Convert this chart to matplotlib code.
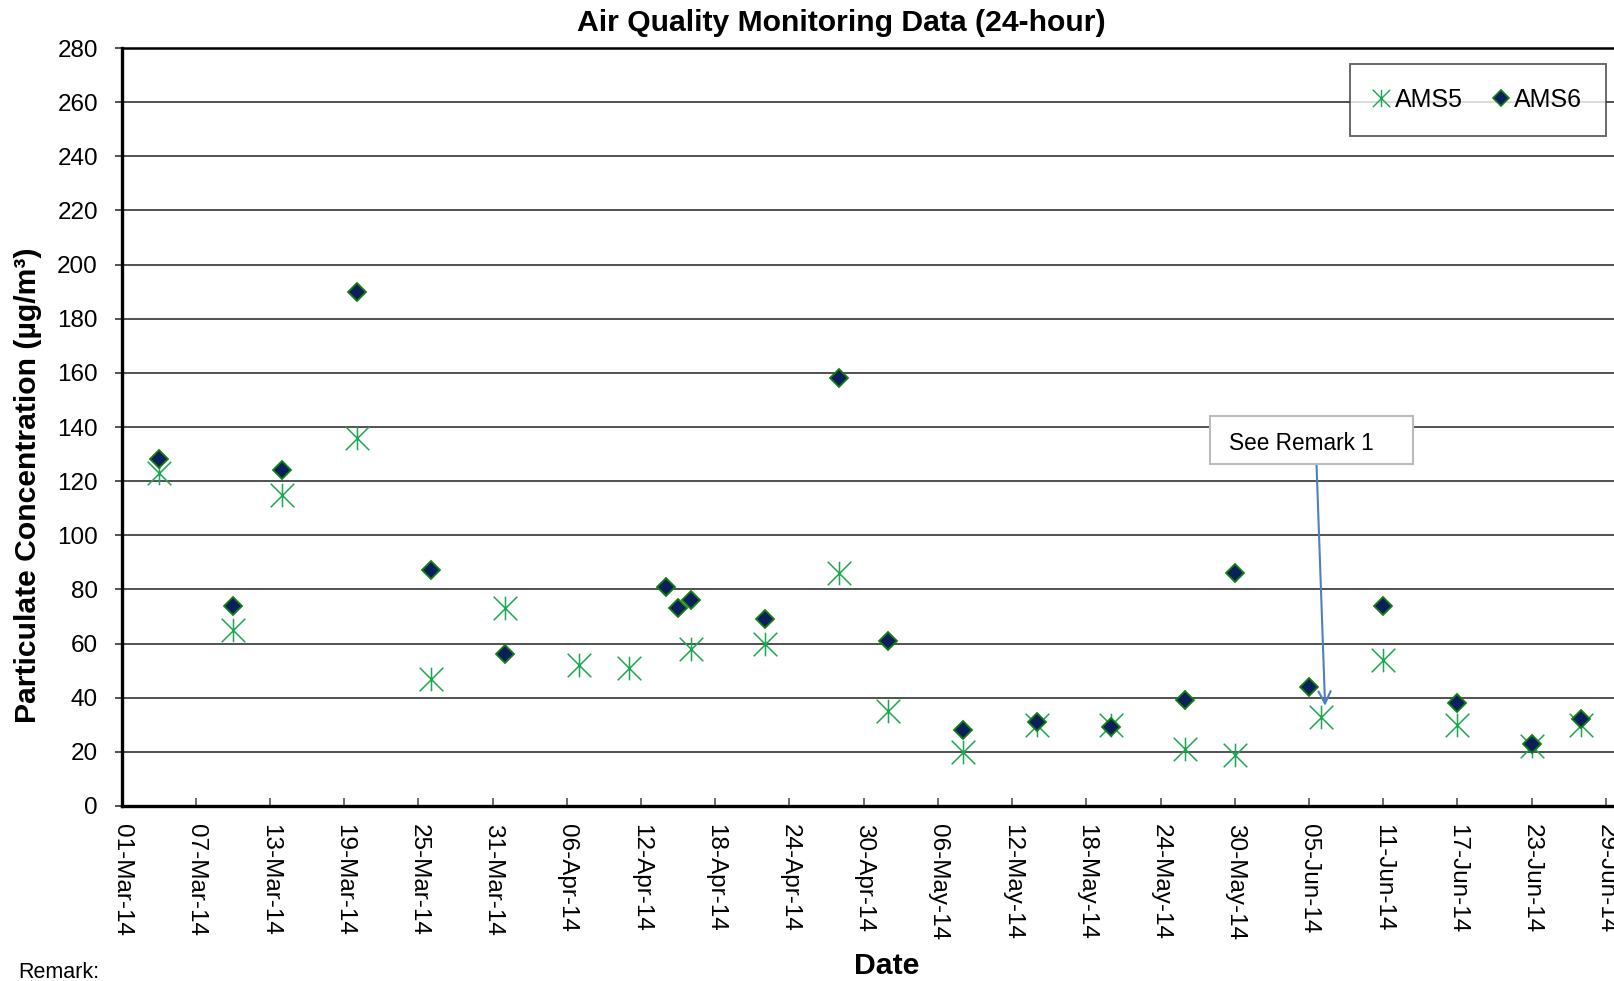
import matplotlib
matplotlib.use('Agg')
import matplotlib.pyplot as plt
import matplotlib.dates as mdates
from matplotlib.path import Path
from matplotlib.lines import Line2D
from matplotlib.patches import Rectangle
from matplotlib import font_manager
import datetime as dt

# ---------------- data ----------------
title_text = "Air Quality Monitoring Data (24-hour)"
y_label = "Particulate Concentration (\u00b5g/m\u00b3)"
x_label = "Date"
series_names = ["AMS5", "AMS6"]

ams5_dates = ["2014-03-04", "2014-03-10", "2014-03-14", "2014-03-20", "2014-03-26",
              "2014-04-01", "2014-04-07", "2014-04-11", "2014-04-16", "2014-04-22",
              "2014-04-28", "2014-05-02", "2014-05-08", "2014-05-14", "2014-05-20",
              "2014-05-26", "2014-05-30", "2014-06-06", "2014-06-11", "2014-06-17",
              "2014-06-23", "2014-06-27"]
ams5_values = [123, 65, 115, 136, 47, 73, 52, 51, 58, 60, 86, 35, 20, 30, 30,
               21, 19, 33, 54, 30, 22, 30]

ams6_dates = ["2014-03-04", "2014-03-10", "2014-03-14", "2014-03-20", "2014-03-26",
              "2014-04-01", "2014-04-14", "2014-04-15", "2014-04-16", "2014-04-22",
              "2014-04-28", "2014-05-02", "2014-05-08", "2014-05-14", "2014-05-20",
              "2014-05-26", "2014-05-30", "2014-06-05", "2014-06-11", "2014-06-17",
              "2014-06-23", "2014-06-27"]
ams6_values = [128, 74, 124, 190, 87, 56, 81, 73, 76, 69, 158, 61, 28, 31, 29,
               39, 86, 44, 74, 38, 23, 32]

y_ticks = list(range(0, 281, 20))
x_start = "2014-03-01"
x_tick_step_days = 6
n_x_ticks = 21
remark_label = "See Remark 1"
remark_target_date = "2014-06-06"
remark_target_value = 37
footer_text = "Remark:"

# ---------------- style ----------------
avail = {f.name for f in font_manager.fontManager.ttflist}
base_font = 'Liberation Sans' if 'Liberation Sans' in avail else 'DejaVu Sans'
narrow_font = 'Liberation Sans Narrow' if 'Liberation Sans Narrow' in avail else base_font
plt.rcParams['font.family'] = [base_font, 'DejaVu Sans']

W, H = 1614, 981
fig = plt.figure(figsize=(W / 100, H / 100), dpi=100)

ax_left, ax_bottom_px, ax_top_px = 121.5, 806, 48
px_per_day = 12.37
ax = fig.add_axes([ax_left / W, 1 - ax_bottom_px / H, 1 - ax_left / W,
                   (ax_bottom_px - ax_top_px) / H])

def to_num(s):
    return mdates.date2num(dt.datetime.strptime(s, "%Y-%m-%d"))

x0 = to_num(x_start)
x_end = x0 + (W - ax_left) / px_per_day

# asterisk marker: vertical bar + X
ast_path = Path([(0, -1), (0, 1), (-1, -1), (1, 1), (-1, 1), (1, -1)],
                [Path.MOVETO, Path.LINETO, Path.MOVETO, Path.LINETO,
                 Path.MOVETO, Path.LINETO])

green = '#1BA851'
navy = '#0A1F5C'
dgreen = '#118011'

x5 = [to_num(d) for d in ams5_dates]
x6 = [to_num(d) for d in ams6_dates]

ax.plot(x5, ams5_values, linestyle='none', marker=ast_path, markersize=17,
        markeredgecolor=green, markerfacecolor='none', markeredgewidth=1.1,
        zorder=3, clip_on=False)
ax.plot(x6, ams6_values, linestyle='none', marker='D', markersize=9.5,
        markerfacecolor=navy, markeredgecolor=dgreen, markeredgewidth=1.3,
        zorder=4, clip_on=False)

ax.set_xlim(x0, x_end)
ax.set_ylim(0, 280)
ax.set_yticks(y_ticks)
ax.set_xticks([x0 + x_tick_step_days * i for i in range(n_x_ticks)])
ax.xaxis.set_major_formatter(mdates.DateFormatter('%d-%b-%y'))

ax.grid(axis='y', color='#333333', linewidth=1.2, zorder=1)
ax.set_axisbelow(True)
for s in ['left', 'bottom']:
    ax.spines[s].set_linewidth(2.4)
    ax.spines[s].set_color('black')
ax.spines['top'].set_linewidth(1.8)
ax.spines['top'].set_color('black')
ax.spines['right'].set_visible(False)

ax.tick_params(axis='x', direction='in', length=6, width=1.2, color='#555555',
               labelsize=17.5, pad=13, labelrotation=270)
ax.tick_params(axis='y', direction='out', length=5, width=1.2, color='#333333',
               labelsize=17.5, pad=12)
for lab in ax.get_xticklabels():
    lab.set_verticalalignment('top')
    lab.set_horizontalalignment('center')

# titles / labels
fig.text(841 / W, 1 - 23 / H, title_text, ha='center', va='center',
         fontsize=21.7, fontweight='bold')
fig.text(28 / W, 1 - 485 / H, y_label, ha='center', va='center', rotation=90,
         fontsize=21.7, fontweight='bold')
fig.text(887 / W, 1 - 966 / H, x_label, ha='center', va='center',
         fontsize=21.8, fontweight='bold')
fig.text(18 / W, 1 - 978 / H, footer_text, ha='left', va='baseline', fontsize=15.5)

# legend
h5 = Line2D([], [], linestyle='none', marker=ast_path, markersize=12.5,
            markeredgecolor=green, markerfacecolor='none', markeredgewidth=1.0)
h6 = Line2D([], [], linestyle='none', marker='D', markersize=8,
            markerfacecolor=navy, markeredgecolor=dgreen, markeredgewidth=1.2)
leg = ax.legend([h5, h6], series_names, ncol=2, loc='center',
                bbox_to_anchor=(1478 / W, 1 - 100 / H), bbox_transform=fig.transFigure,
                fontsize=18, frameon=True, fancybox=False, borderpad=0.95,
                handlelength=0.6, handletextpad=0.25, columnspacing=1.2,
                borderaxespad=0)
leg.get_frame().set_edgecolor('#444444')
leg.get_frame().set_linewidth(1.4)
leg.set_zorder(6)

# remark annotation box
bx0, by0, bx1, by1 = 1210, 416, 1413, 464
fig.patches.append(Rectangle((bx0 / W, 1 - by1 / H), (bx1 - bx0) / W, (by1 - by0) / H,
                             transform=fig.transFigure, facecolor='white',
                             edgecolor='#BBBBBB', linewidth=1.5, zorder=5))
fig.text(1229 / W, 1 - 443 / H, remark_label, ha='left', va='center',
         fontsize=16.3, family=[narrow_font, base_font], zorder=6)
ax.annotate('', xy=(to_num(remark_target_date) + 0.3, remark_target_value),
            xycoords='data',
            xytext=(1316.5, H - 464), textcoords='figure pixels',
            arrowprops=dict(arrowstyle='->', color='#4F7FC0', lw=1.5,
                            mutation_scale=22, shrinkA=0, shrinkB=0),
            zorder=5, annotation_clip=False)

fig.savefig('out.png', dpi=100)
